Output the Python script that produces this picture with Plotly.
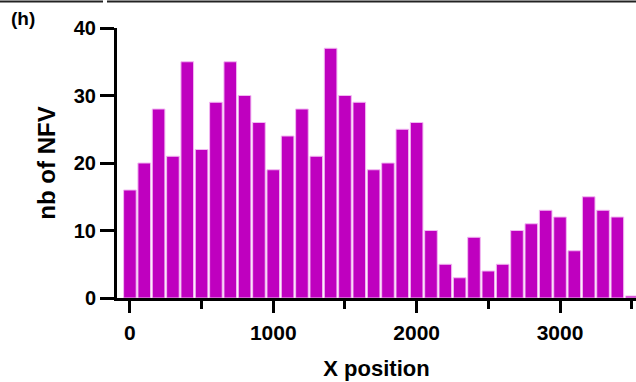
import plotly.graph_objects as go

x_bins = [0, 100, 200, 300, 400, 500, 600, 700, 800, 900, 1000, 1100, 1200, 1300,
          1400, 1500, 1600, 1700, 1800, 1900, 2000, 2100, 2200, 2300, 2400, 2500,
          2600, 2700, 2800, 2900, 3000, 3100, 3200, 3300, 3400, 3500]
nfv_counts = [16, 20, 28, 21, 35, 22, 29, 35, 30, 26, 19, 24, 28, 21,
              37, 30, 29, 19, 20, 25, 26, 10, 5, 3, 9, 4,
              5, 10, 11, 13, 12, 7, 15, 13, 12, 0.3]
x_ticks = [0, 1000, 2000, 3000]
y_ticks = [0, 10, 20, 30, 40]

W, H = 636, 382
ML, MR, MT, MB = 117, 0, 28, 84
PW, PH = W - ML - MR, H - MT - MB

fig = go.Figure(go.Bar(
    x=x_bins, y=nfv_counts, width=88,
    marker=dict(color="#BF00BF", line=dict(color="#F2B8F2", width=1)),
))

font_main = "Liberation Sans, Arial, sans-serif"
fig.update_layout(
    width=W, height=H,
    margin=dict(l=ML, r=MR, t=MT, b=MB),
    plot_bgcolor="white", paper_bgcolor="white",
    showlegend=False,
    font=dict(family=font_main, color="black"),
    xaxis=dict(
        range=[-90, 3530], tickvals=x_ticks, ticks="outside", ticklen=12, tickwidth=3,
        tickcolor="black", showline=True, linecolor="black", linewidth=3,
        showgrid=False, zeroline=False, ticklabelstandoff=2,
        tickfont=dict(size=21, family=font_main, weight="bold"),
        minor=dict(dtick=500, tick0=0, ticks="outside", ticklen=8, tickwidth=3, tickcolor="black", showgrid=False),
        title=dict(text="X position", font=dict(size=22, weight="bold"), standoff=18),
    ),
    yaxis=dict(
        range=[0, 40], tickvals=y_ticks, ticks="outside", ticklen=14, tickwidth=3,
        tickcolor="black", showline=True, linecolor="black", linewidth=3,
        showgrid=False, zeroline=False,
        tickfont=dict(size=20, family=font_main, weight="bold"),
        title=dict(text="nb of NFV", font=dict(size=24, weight="bold"), standoff=12),
    ),
)

def px_x(p):
    return (p - ML) / PW

def px_y(p):
    return 1 + (MT - p) / PH

for x0, x1 in [(0, 103), (107, 636)]:
    fig.add_shape(type="line", xref="paper", yref="paper",
                  x0=px_x(x0), x1=px_x(x1), y0=px_y(1.5), y1=px_y(1.5),
                  line=dict(color="#222222", width=2))

fig.add_annotation(text="(h)", xref="paper", yref="paper", x=px_x(9), y=px_y(19),
                   xanchor="left", yanchor="middle", showarrow=False,
                   font=dict(size=19, family=font_main, weight="bold"))

fig.write_html("out.html", config={"displayModeBar": False},
               post_script="document.body.style.margin='0';")
